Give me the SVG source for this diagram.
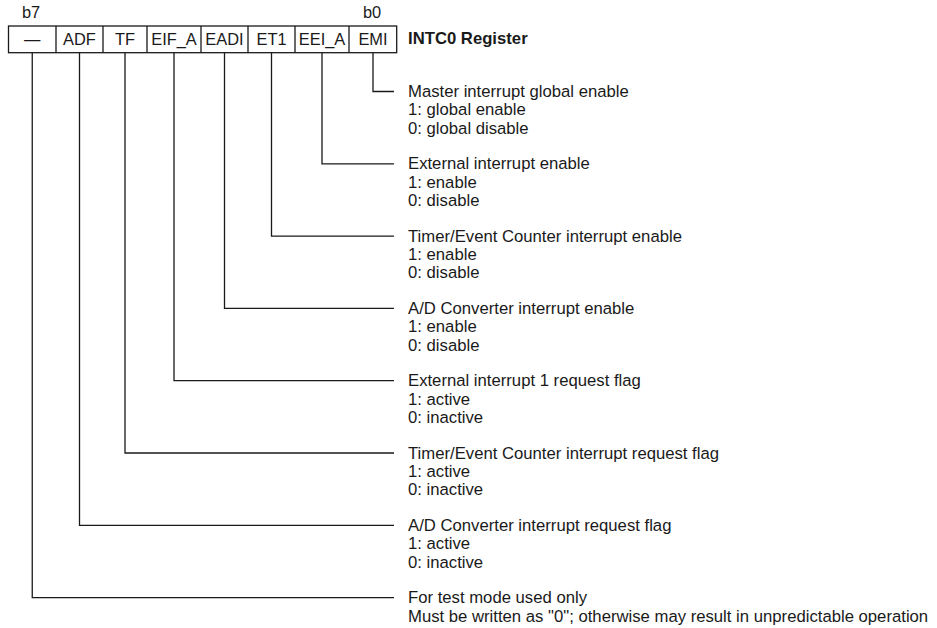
<svg xmlns="http://www.w3.org/2000/svg" width="937" height="628" viewBox="0 0 937 628">
<style>
text{font-family:"Liberation Sans",Arial,sans-serif;fill:#1a1a1a}
.cell{font-size:16.4px;text-anchor:middle}
.bit{font-size:16.4px;text-anchor:middle}
.title{font-size:16.7px;font-weight:bold}
.desc{font-size:16.7px}
.box{fill:#fff;stroke:#1a1a1a;stroke-width:1.3}
.wire{fill:none;stroke:#1a1a1a;stroke-width:1.3}
</style>
<rect width="937" height="628" fill="#fff"/>
<g id="register">
<rect class="box" x="8.5" y="26" width="388.2" height="26.7"/>
<line class="wire" x1="56" y1="26" x2="56" y2="52.7"/>
<line class="wire" x1="103" y1="26" x2="103" y2="52.7"/>
<line class="wire" x1="147" y1="26" x2="147" y2="52.7"/>
<line class="wire" x1="201" y1="26" x2="201" y2="52.7"/>
<line class="wire" x1="248" y1="26" x2="248" y2="52.7"/>
<line class="wire" x1="295" y1="26" x2="295" y2="52.7"/>
<line class="wire" x1="349" y1="26" x2="349" y2="52.7"/>
<text class="cell" x="32.25" y="45">—</text>
<text class="cell" x="79.5" y="45">ADF</text>
<text class="cell" x="125" y="45">TF</text>
<text class="cell" x="174" y="45">EIF_A</text>
<text class="cell" x="224.5" y="45">EADI</text>
<text class="cell" x="271.5" y="45">ET1</text>
<text class="cell" x="322" y="45">EEI_A</text>
<text class="cell" x="373" y="45">EMI</text>
<text class="bit" x="31" y="18">b7</text>
<text class="bit" x="372" y="18">b0</text>
<text class="title" x="408" y="44">INTC0 Register</text>
</g>
<g id="connectors">
<polyline class="wire" points="373,52.7 373,91.5 394,91.5"/>
<polyline class="wire" points="322,52.7 322,163.8 394,163.8"/>
<polyline class="wire" points="271.5,52.7 271.5,236.1 394,236.1"/>
<polyline class="wire" points="224.5,52.7 224.5,308.4 394,308.4"/>
<polyline class="wire" points="174,52.7 174,380.7 394,380.7"/>
<polyline class="wire" points="125,52.7 125,453 394,453"/>
<polyline class="wire" points="79.5,52.7 79.5,525.3 394,525.3"/>
<polyline class="wire" points="32.25,52.7 32.25,597.6 394,597.6"/>
</g>
<g id="desc-emi">
<text class="desc" x="408" y="97">Master interrupt global enable</text>
<text class="desc" x="408" y="115.4">1: global enable</text>
<text class="desc" x="408" y="133.8">0: global disable</text>
</g>
<g id="desc-eei">
<text class="desc" x="408" y="169.3">External interrupt enable</text>
<text class="desc" x="408" y="187.7">1: enable</text>
<text class="desc" x="408" y="206.1">0: disable</text>
</g>
<g id="desc-et1">
<text class="desc" x="408" y="241.6">Timer/Event Counter interrupt enable</text>
<text class="desc" x="408" y="260">1: enable</text>
<text class="desc" x="408" y="278.4">0: disable</text>
</g>
<g id="desc-eadi">
<text class="desc" x="408" y="313.9">A/D Converter interrupt enable</text>
<text class="desc" x="408" y="332.3">1: enable</text>
<text class="desc" x="408" y="350.7">0: disable</text>
</g>
<g id="desc-eif">
<text class="desc" x="408" y="386.2">External interrupt 1 request flag</text>
<text class="desc" x="408" y="404.6">1: active</text>
<text class="desc" x="408" y="423">0: inactive</text>
</g>
<g id="desc-tf">
<text class="desc" x="408" y="458.5">Timer/Event Counter interrupt request flag</text>
<text class="desc" x="408" y="476.9">1: active</text>
<text class="desc" x="408" y="495.3">0: inactive</text>
</g>
<g id="desc-adf">
<text class="desc" x="408" y="530.8">A/D Converter interrupt request flag</text>
<text class="desc" x="408" y="549.2">1: active</text>
<text class="desc" x="408" y="567.6">0: inactive</text>
</g>
<g id="desc-test">
<text class="desc" x="408" y="603.1">For test mode used only</text>
<text class="desc" x="408" y="621.5">Must be written as "0"; otherwise may result in unpredictable operation</text>
</g>
</svg>
